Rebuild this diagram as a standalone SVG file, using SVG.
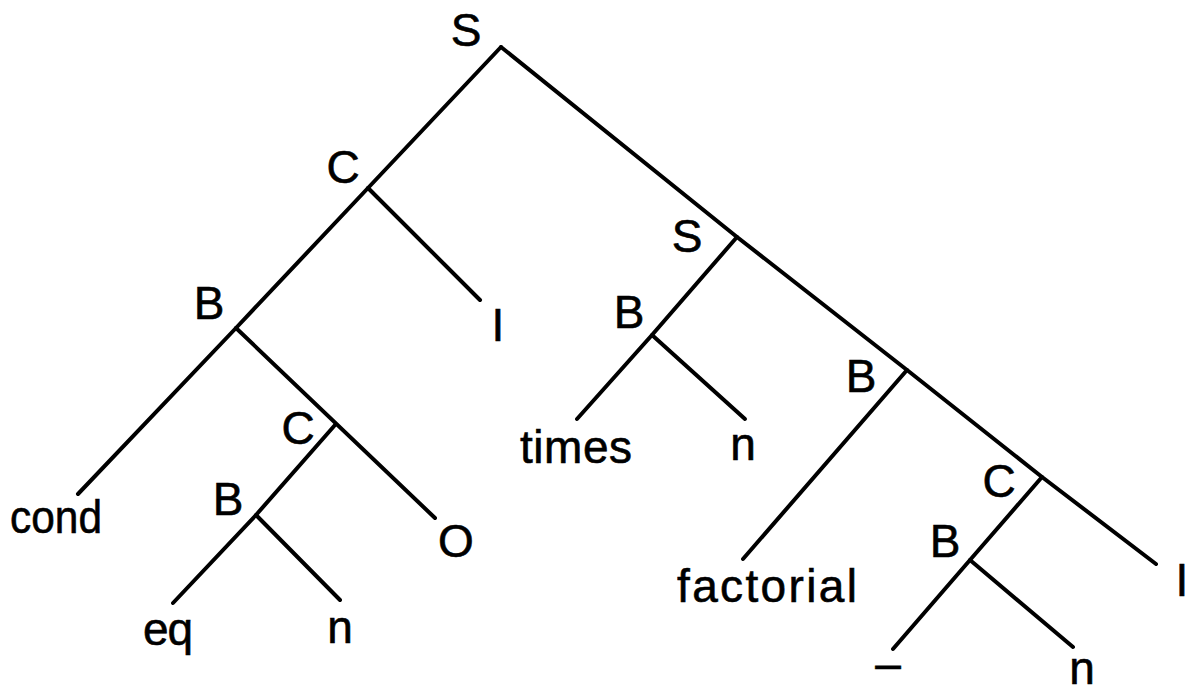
<svg xmlns="http://www.w3.org/2000/svg" width="1188" height="692" viewBox="0 0 1188 692">
  <style>
    .edge { fill: none; stroke: #000; stroke-width: 4; stroke-linecap: round; stroke-linejoin: round; }
    .lbl { font-family: "Liberation Sans", Arial, sans-serif; font-size: 46px; fill: #000; stroke: #000; stroke-width: 0.6; }
    .mid { text-anchor: middle; }
  </style>
  <rect width="1188" height="692" fill="#fff"/>

  <!-- tree edges -->
  <g id="connectors">
    <!-- root spine to the right -->
    <polyline class="edge" points="501,47 737,237 907,370 1042,477 1156,564"/>
    <!-- left subtree -->
    <polyline class="edge" points="501,47 368,188 236,328 78,494"/>
    <line class="edge" x1="368" y1="188" x2="480" y2="300"/>
    <line class="edge" x1="236" y1="328" x2="435" y2="518"/>
    <polyline class="edge" points="335,425 256,515 173,603"/>
    <line class="edge" x1="256" y1="515" x2="340" y2="600"/>
    <!-- times n -->
    <polyline class="edge" points="737,237 652,335 577,419"/>
    <line class="edge" x1="652" y1="335" x2="745" y2="419"/>
    <!-- factorial -->
    <line class="edge" x1="907" y1="370" x2="743" y2="559"/>
    <!-- minus n -->
    <polyline class="edge" points="1042,477 970,560 893,649"/>
    <line class="edge" x1="970" y1="560" x2="1073" y2="647"/>
  </g>

  <g id="n-root"><text class="lbl mid" x="466" y="46">S</text></g>
  <g id="n-c1"><text class="lbl mid" x="343" y="183">C</text></g>
  <g id="n-b1"><text class="lbl mid" x="209" y="319">B</text></g>
  <g id="n-i1"><text class="lbl mid" x="498" y="341">I</text></g>
  <g id="n-cond"><text class="lbl" x="10" y="533" textLength="92" lengthAdjust="spacingAndGlyphs">cond</text></g>
  <g id="n-c2"><text class="lbl mid" x="298" y="444">C</text></g>
  <g id="n-o"><text class="lbl mid" x="456" y="557">O</text></g>
  <g id="n-b2"><text class="lbl mid" x="228" y="515">B</text></g>
  <g id="n-eq"><text class="lbl" x="143" y="645" textLength="50" lengthAdjust="spacing">eq</text></g>
  <g id="n-n1"><text class="lbl mid" x="340" y="643">n</text></g>
  <g id="n-s2"><text class="lbl mid" x="687" y="252">S</text></g>
  <g id="n-b4"><text class="lbl mid" x="629" y="328">B</text></g>
  <g id="n-times"><text class="lbl" x="520" y="463" textLength="112" lengthAdjust="spacing">times</text></g>
  <g id="n-n2"><text class="lbl mid" x="743" y="460">n</text></g>
  <g id="n-b3"><text class="lbl mid" x="861" y="392">B</text></g>
  <g id="n-factorial"><text class="lbl" x="677" y="602" textLength="180" lengthAdjust="spacing">factorial</text></g>
  <g id="n-c3"><text class="lbl mid" x="999" y="497">C</text></g>
  <g id="n-i2"><text class="lbl mid" x="1182" y="596">I</text></g>
  <g id="n-b5"><text class="lbl mid" x="945" y="557">B</text></g>
  <g id="n-minus"><text class="lbl mid" x="888" y="679">–</text></g>
  <g id="n-n3"><text class="lbl mid" x="1082" y="684">n</text></g>
</svg>
